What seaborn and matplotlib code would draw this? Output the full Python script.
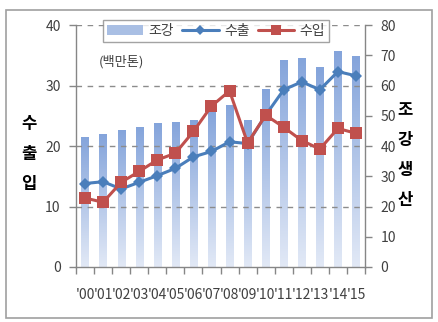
import numpy as np
import pandas as pd
import matplotlib
matplotlib.use("Agg")
import matplotlib.pyplot as plt
import matplotlib.patches as mpatches
from matplotlib.lines import Line2D
import seaborn as sns

years = ["'00", "'01", "'02", "'03", "'04", "'05", "'06", "'07",
         "'08", "'09", "'10", "'11", "'12", "'13", "'14", "'15"]
# crude steel production (right axis, million tonnes)
steel = [43.1, 43.9, 45.4, 46.3, 47.6, 48.0, 48.5, 51.9,
         53.6, 48.6, 58.9, 68.5, 69.1, 66.1, 71.5, 69.7]
# exports / imports (left axis, million tonnes)
exports = [13.8, 14.1, 12.9, 14.0, 15.1, 16.3, 18.2, 19.1,
           20.7, 20.4, 25.1, 29.3, 30.6, 29.3, 32.3, 31.6]
imports = [11.4, 10.7, 14.0, 15.8, 17.7, 18.8, 22.4, 26.6,
           29.1, 20.5, 25.1, 23.1, 20.9, 19.5, 22.9, 22.1]

sns.set_theme(style="white")
plt.rcParams["font.family"] = ["Noto Sans CJK KR", "DejaVu Sans"]

W, H = 438, 322
fig = plt.figure(figsize=(W / 100, H / 100), dpi=100)

# outer frame
fig.patches.append(mpatches.Rectangle((6 / W, 4 / H), 426 / W, 308 / H,
                                      transform=fig.transFigure, fill=False,
                                      edgecolor="#a0a0a0", lw=1.2))

ax_bar = fig.add_axes([76 / W, 55 / H, 289 / W, 242 / H])
ax_line = ax_bar.twinx()

df = pd.DataFrame({"year": years, "steel": steel,
                   "exports": exports, "imports": imports,
                   "pos": np.arange(len(years))})

sns.barplot(data=df, x="year", y="steel", ax=ax_bar, width=0.4,
            color="#a9bfe4", saturation=1, edgecolor="none", zorder=2)

# vertical gradient fill for each bar
grad = np.linspace(0, 1, 256).reshape(-1, 1)
cmap = matplotlib.colors.LinearSegmentedColormap.from_list(
    "steelgrad", ["#e2e9f6", "#84a4db"])
for p in ax_bar.patches:
    x0, w, h = p.get_x(), p.get_width(), p.get_height()
    im = ax_bar.imshow(grad, extent=[x0, x0 + w, 0, h], origin="lower",
                       cmap=cmap, aspect="auto", zorder=3)
    im.set_clip_path(p)

ax_bar.set_xlim(-0.5, len(years) - 0.5)
ax_bar.set_ylim(0, 80)
ax_bar.set_yticks(range(0, 81, 10))
ax_bar.set_xlabel("")
ax_bar.set_ylabel("")

ax_line.set_ylim(0, 40)
ax_line.set_yticks(range(0, 41, 10))

# dashed grid
for v in range(10, 41, 10):
    ax_line.axhline(v, color="#8c8c8c", lw=1, ls=(0, (4, 4)), zorder=0.5)

sns.lineplot(data=df, x="pos", y="exports", ax=ax_line, color="#4a7ebb",
             lw=2.2, marker="D", markersize=6.5, markeredgewidth=0, zorder=5)
sns.lineplot(data=df, x="pos", y="imports", ax=ax_line, color="#c0504d",
             lw=2.2, marker="s", markersize=8, markeredgewidth=0, zorder=6)
ax_line.set_xlim(-0.5, len(years) - 0.5)
ax_line.set_xlabel("")
ax_line.set_ylabel("")

# steel axis on the right, trade axis on the left
ax_bar.yaxis.tick_right()
ax_line.yaxis.tick_left()

tick_col = "#404040"
spine_col = "#868686"
for a in (ax_bar, ax_line):
    for s in a.spines.values():
        s.set_visible(False)
for s in ("left", "right", "bottom"):
    ax_line.spines[s].set_visible(True)
    ax_line.spines[s].set_color(spine_col)
    ax_line.spines[s].set_linewidth(1)

ax_line.tick_params(axis="y", which="both", left=True, right=False,
                    labelleft=True, labelright=False,
                    length=5, width=1, color=spine_col, labelsize=10,
                    labelcolor=tick_col, pad=6)
ax_bar.tick_params(axis="y", which="both", left=False, right=True,
                   labelleft=False, labelright=True,
                   length=5, width=1, color=spine_col, labelsize=10,
                   labelcolor=tick_col, pad=6)

# category labels with boundary tick marks
ax_line.set_xticks([])
ax_bar.set_xticks(np.arange(len(years)))
ax_bar.set_xticklabels(years)
ax_bar.tick_params(axis="x", which="major", length=0, labelsize=10,
                   labelcolor=tick_col, pad=15)
ax_bar.set_xticks(np.arange(-0.5, len(years)), minor=True)
ax_bar.tick_params(axis="x", which="minor", bottom=True, length=5, width=1,
                   color=spine_col)

# legend
handles = [
    mpatches.Patch(facecolor="#a9bfe4", edgecolor="none"),
    Line2D([], [], color="#4a7ebb", lw=2.2, marker="D", markersize=5,
           markeredgewidth=0),
    Line2D([], [], color="#c0504d", lw=2.2, marker="s", markersize=7,
           markeredgewidth=0),
]
leg = fig.legend(handles, ["조강", "수출", "수입"], ncol=3,
                 loc="center", bbox_to_anchor=(216 / W, 1 - 31 / H),
                 frameon=True, fancybox=False, fontsize=10,
                 handlelength=2.6, handletextpad=0.4, columnspacing=0.6,
                 borderpad=0.3, labelcolor=tick_col)
leg.get_frame().set_edgecolor("#8c8c8c")
leg.get_frame().set_linewidth(1)
leg.get_frame().set_facecolor("white")

fig.text(121 / W, 1 - 62 / H, "(백만톤)", ha="center", va="center",
         fontsize=9.5, color=tick_col)

for i, ch in enumerate("수출입"):
    fig.text(29 / W, 1 - (124 + 30 * i) / H, ch, ha="center", va="center",
             fontsize=12, fontweight="bold", color="black")
for i, ch in enumerate("조강생산"):
    fig.text(405 / W, 1 - (110 + 30 * i) / H, ch, ha="center", va="center",
             fontsize=12, fontweight="bold", color="black")

fig.savefig("out.png", dpi=100)
